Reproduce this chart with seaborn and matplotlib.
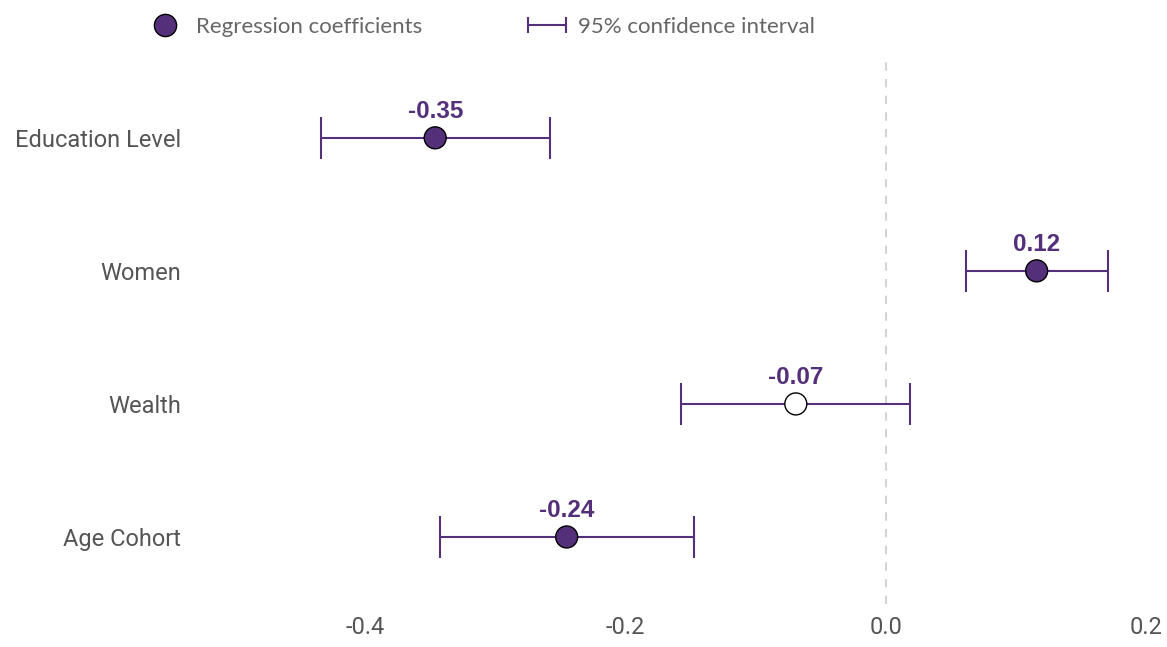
import numpy as np
import pandas as pd
import matplotlib
matplotlib.use('Agg')
import matplotlib.pyplot as plt
import seaborn as sns
from matplotlib.lines import Line2D
from matplotlib.legend_handler import HandlerLine2D

# data
variables = ['Education Level', 'Women', 'Wealth', 'Age Cohort']
coefs = [-0.346, 0.116, -0.069, -0.245]
ci_low = [-0.434, 0.062, -0.157, -0.342]
ci_high = [-0.258, 0.171, 0.019, -0.147]
significant = [True, True, False, True]
value_labels = ['-0.35', '0.12', '-0.07', '-0.24']

purple = '#55307a'
gray_text = '#555555'

sns.set_theme(style='white')
plt.rcParams['font.family'] = ['Roboto', 'DejaVu Sans']

df = pd.DataFrame({'variable': variables, 'coef': coefs,
                   'low': ci_low, 'high': ci_high, 'sig': significant})
df['pos'] = np.arange(len(df))

fig = plt.figure(figsize=(11.67, 6.47), dpi=100)
ax = fig.add_axes([195 / 1167, 43.5 / 647, 951 / 1167, 545.5 / 647])

# zero reference line
ax.axvline(0, color='#d4d4d4', lw=1.5, ls=(0, (4, 4)), zorder=0)

# confidence intervals
err = [df['coef'] - df['low'], df['high'] - df['coef']]
ax.errorbar(df['coef'], df['pos'], xerr=err, fmt='none', ecolor=purple,
            elinewidth=1.5, capsize=15, capthick=1.5, zorder=2)

# coefficient points
sns.scatterplot(data=df, x='coef', y='pos', hue='sig',
                palette={True: purple, False: 'white'}, s=250,
                edgecolor='black', linewidth=1.0, legend=False, zorder=3, ax=ax)

for i, r in df.iterrows():
    ax.text(r['coef'], r['pos'] - 0.2, value_labels[i], ha='center', va='center',
            fontsize=17.5, fontweight='bold', color=purple,
            family=['Liberation Sans', 'DejaVu Sans'])

ax.set_xlim(-0.5305, 0.2)
ax.set_ylim(3.5, -0.6)
ax.set_xticks([-0.4, -0.2, 0.0, 0.2])
ax.set_xticklabels(['-0.4', '-0.2', '0.0', '0.2'])
ax.set_yticks(df['pos'])
ax.set_yticklabels(variables)
ax.tick_params(axis='both', length=0, labelsize=17, labelcolor=gray_text)
ax.tick_params(axis='y', pad=10)
ax.tick_params(axis='x', pad=9)
ax.set_xlabel('')
ax.set_ylabel('')
sns.despine(ax=ax, left=True, bottom=True)

# legend
pt = Line2D([], [], marker='o', ls='none', markersize=16, markerfacecolor=purple,
            markeredgecolor='black', markeredgewidth=1.0)
ci = Line2D([], [], color=purple, lw=1.5, marker='|', markersize=11,
            markeredgewidth=1.5)
leg = fig.legend([pt, ci], ['Regression coefficients', '95% confidence interval'],
                 handler_map={ci: HandlerLine2D(numpoints=2)},
                 loc='center left', bbox_to_anchor=(139 / 1167, 1 - 27 / 647),
                 ncol=2, frameon=False, fontsize=16, columnspacing=4.45,
                 handlelength=2.31, handletextpad=0.25, borderpad=0,
                 borderaxespad=0, prop={'family': ['Lato', 'DejaVu Sans'], 'size': 16})
for t in leg.get_texts():
    t.set_color('#666666')

fig.savefig('out.png', dpi=100)
